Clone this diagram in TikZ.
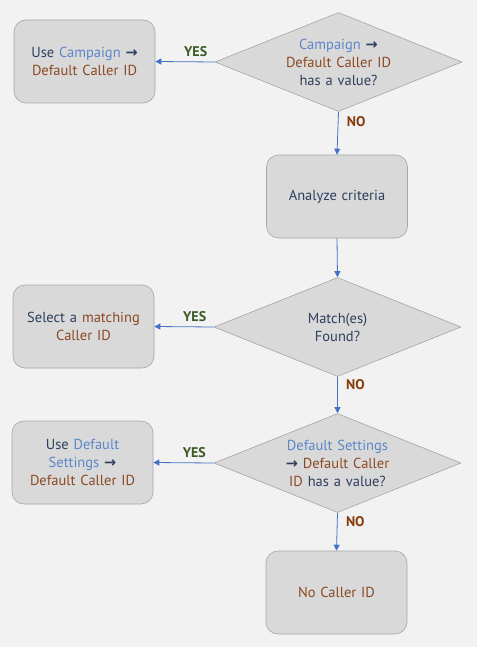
\documentclass[tikz,border=0pt]{standalone}
\usepackage{fontspec}
\setmainfont{PT Sans}
\newfontfamily\arrowfont{DejaVu Sans}
\usetikzlibrary{shapes.geometric,arrows.meta}
\definecolor{bgray}{HTML}{F2F2F2}
\definecolor{boxfill}{HTML}{D9D9D9}
\definecolor{boxline}{HTML}{A6A6A6}
\definecolor{navy}{HTML}{2E3F5E}
\definecolor{lblue}{HTML}{5B87C9}
\definecolor{rust}{HTML}{8C4A22}
\definecolor{yesgreen}{HTML}{3B5A26}
\definecolor{nobrown}{HTML}{843C0C}
\definecolor{flow}{HTML}{4472C4}
\newcommand{\ra}{{\arrowfont\bfseries →}}
\newcommand{\bl}[1]{\textcolor{lblue}{#1}}
\newcommand{\br}[1]{\textcolor{rust}{#1}}
\tikzset{
	boxtext/.style={text=navy, align=center, font=\fontsize{14.5}{18}\selectfont},
	stepbox/.style={draw=boxline, fill=boxfill, rounded corners=12pt, minimum width=141pt, minimum height=83pt, text width=130pt, boxtext, line width=0.6pt},
	decision/.style={draw=boxline, fill=boxfill, diamond, minimum width=247pt, minimum height=99pt, inner sep=0pt, line width=0.6pt},
	qtext/.style={boxtext, text width=#1, inner sep=0pt},
	flowline/.style={draw=flow, line width=0.8pt, -{Triangle[length=6pt,width=6pt]}},
	yeslabel/.style={text=yesgreen, font=\fontsize{14}{16}\selectfont\bfseries},
	nolabel/.style={text=nobrown, font=\fontsize{14}{16}\selectfont\bfseries}
}
\begin{document}
\begin{tikzpicture}[x=1pt, y=-1pt]
		%%%%% START %%%%%
		\useasboundingbox (0, 0) rectangle (477, 647);
		\fill[bgray] (0, 0) rectangle (477, 647);
		
		\node[decision] (campq) at (338.5, 62) {};
		\node[qtext=120pt] at (campq.center) {\bl{Campaign} \ra\\ \br{Default Caller ID}\\ has a value?};
		\node[stepbox] (usecamp) at (84.5, 61.5) {Use \bl{Campaign} \ra\\ \br{Default Caller ID}};
		\draw[flowline] (campq.west) -- (usecamp.east) node[yeslabel, pos=0.32, above=1pt] {YES};
		
		\node[stepbox] (analyze) at (337, 196.5) {Analyze criteria};
		\draw[flowline] (campq.south) -- (analyze.north) node[nolabel, pos=0.22, right=5pt] {NO};
		
		\node[decision] (matchq) at (337.5, 327) {};
		\node[qtext=100pt] at (matchq.center) {Match(es)\\ Found?};
		\draw[flowline] (analyze.south) -- (matchq.north);
		\node[stepbox] (select) at (83.5, 326.5) {Select a \br{matching}\\ \br{Caller ID}};
		\draw[flowline] (matchq.west) -- (select.east) node[yeslabel, pos=0.32, above=1pt] {YES};
		
		\node[decision] (defq) at (337.5, 463) {};
		\node[qtext=120pt] at (defq.center) {\bl{Default Settings}\\ \ra\ \br{Default Caller}\\ \br{ID} has a value?};
		\draw[flowline] (matchq.south) -- (defq.north) node[nolabel, pos=0.22, right=5pt] {NO};
		\node[stepbox] (usedef) at (82.5, 462.5) {Use \bl{Default}\\ \bl{Settings} \ra\\ \br{Default Caller ID}};
		\draw[flowline] (defq.west) -- (usedef.east) node[yeslabel, pos=0.32, above=1pt] {YES};
		
		\node[stepbox, text=rust] (nocall) at (336.5, 592.5) {No Caller ID};
		\draw[flowline] (defq.south) -- (nocall.north) node[nolabel, pos=0.22, right=5pt] {NO};
		%%%%% END %%%%%
\end{tikzpicture}
\end{document}
